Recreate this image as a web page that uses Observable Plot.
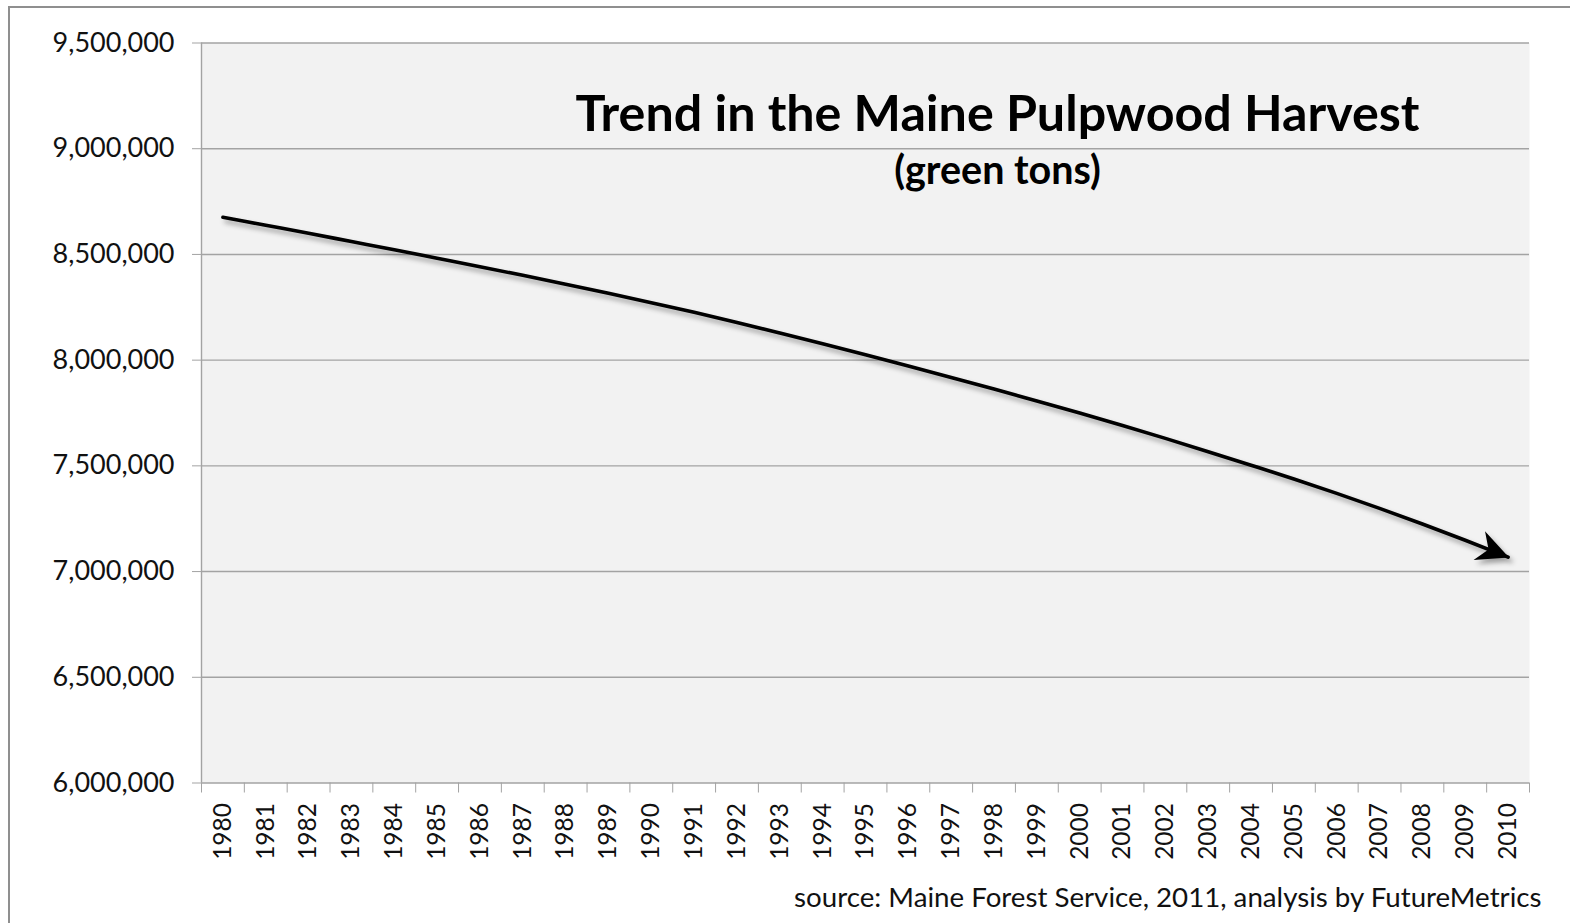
<!DOCTYPE html>
<html>
<head>
<meta charset="utf-8">
<script src="https://cdn.jsdelivr.net/npm/d3@7"></script>
<script src="https://cdn.jsdelivr.net/npm/@observablehq/plot@0.6"></script>
<style>
html, body { margin: 0; padding: 0; background: #fff; overflow: hidden; }
#wrap { position: relative; width: 1570px; height: 923px; overflow: hidden; }
#border { position: absolute; left: 8px; top: 6px; width: 1640px; height: 1000px; border: 2px solid #8f8f8f; box-sizing: border-box; }
#chart { position: absolute; left: 0; top: 0; }
</style>
</head>
<body>
<div id="wrap"><div id="border"></div><div id="chart"></div></div>
<script>
// ---- data ----
const years = [1980, 1981, 1982, 1983, 1984, 1985, 1986, 1987, 1988, 1989,
               1990, 1991, 1992, 1993, 1994, 1995, 1996, 1997, 1998, 1999,
               2000, 2001, 2002, 2003, 2004, 2005, 2006, 2007, 2008, 2009, 2010];
const harvest = [8676000, 8638000, 8600000, 8561000, 8522000, 8482000, 8442000, 8401000, 8359000, 8316000,
                 8272000, 8226000, 8178000, 8128000, 8077000, 8025000, 7972000, 7918000, 7863000, 7807000,
                 7750000, 7691000, 7630000, 7567000, 7503000, 7438000, 7370000, 7299000, 7225000, 7148000, 7068000];
const yTicks = [6000000, 6500000, 7000000, 7500000, 8000000, 8500000, 9000000, 9500000];
const titleText = ["Trend in the Maine Pulpwood Harvest"];
const subtitleText = ["(green tons)"];
const sourceText = ["source: Maine Forest Service, 2011, analysis by FutureMetrics"];

// ---- derived tables ----
const data = years.map((year, i) => ({year, value: harvest[i]}));
const bounds = [...years.map(y => y - 0.5), years[years.length - 1] + 0.5];

const gray = "#a3a3a3";
const chart = Plot.plot({
  width: 1570,
  height: 923,
  marginLeft: 201,
  marginRight: 41,
  marginTop: 42.5,
  marginBottom: 140.5,
  style: {fontFamily: "Lato, 'Open Sans', sans-serif", background: "transparent", overflow: "visible", color: "#111"},
  x: {type: "linear", domain: [bounds[0], bounds[bounds.length - 1]], label: null},
  y: {domain: [yTicks[0], yTicks[yTicks.length - 1]], label: null},
  marks: [
    Plot.frame({fill: "#f2f2f2", stroke: null}),
    Plot.gridY(yTicks, {stroke: gray, strokeOpacity: 1, strokeWidth: 1.4}),
    Plot.ruleX([bounds[0]], {stroke: gray, strokeWidth: 1.4}),
    Plot.axisY({ticks: yTicks, tickSize: 9, tickPadding: 18, tickFormat: d3.format(","), fontSize: 27, stroke: gray, fill: "#111", label: null}),
    Plot.axisX({ticks: bounds, tickSize: 10, tickFormat: () => "", stroke: gray, label: null}),
    Plot.axisX({ticks: years, tickSize: 0, tickPadding: 20, tickRotate: -90, tickFormat: d => String(d), fontSize: 24.5, fill: "#111", label: null}),
    Plot.line(data, {x: "year", y: "value", curve: "monotone-x", stroke: "#000", strokeWidth: 3.6}),
    Plot.text(titleText, {text: d => d, frameAnchor: "top", dx: 132, dy: 88, lineAnchor: "bottom", fontSize: 50.2, fontWeight: "bold", fill: "#000"}),
    Plot.text(subtitleText, {text: d => d, frameAnchor: "top", dx: 132, dy: 141, lineAnchor: "bottom", fontSize: 39.5, fontWeight: "bold", fill: "#000"}),
    Plot.text(sourceText, {text: d => d, frameAnchor: "bottom-right", textAnchor: "end", dx: 12, dy: 123.5, lineAnchor: "bottom", fontSize: 27.7, fill: "#111"})
  ]
});

// arrowhead + drop shadow on the trend line
const ns = "http://www.w3.org/2000/svg";
const defs = document.createElementNS(ns, "defs");
const filter = document.createElementNS(ns, "filter");
filter.setAttribute("id", "lineShadow");
filter.setAttribute("x", "-5%"); filter.setAttribute("y", "-20%");
filter.setAttribute("width", "115%"); filter.setAttribute("height", "150%");
const shadow = document.createElementNS(ns, "feDropShadow");
shadow.setAttribute("dx", "3"); shadow.setAttribute("dy", "4");
shadow.setAttribute("stdDeviation", "2.5");
shadow.setAttribute("flood-color", "#000"); shadow.setAttribute("flood-opacity", "0.35");
filter.appendChild(shadow);
defs.appendChild(filter);
const marker = document.createElementNS(ns, "marker");
marker.setAttribute("id", "arrowHead");
marker.setAttribute("viewBox", "-36 -18 38 36");
marker.setAttribute("refX", "0"); marker.setAttribute("refY", "0");
marker.setAttribute("markerWidth", "38"); marker.setAttribute("markerHeight", "36");
marker.setAttribute("markerUnits", "userSpaceOnUse");
marker.setAttribute("orient", "auto");
const head = document.createElementNS(ns, "path");
head.setAttribute("d", "M1,0 L-31,-15.5 L-21,0 L-31,15.5 Z");
head.setAttribute("fill", "#000");
marker.appendChild(head);
defs.appendChild(marker);
chart.insertBefore(defs, chart.firstChild);
const linePath = chart.querySelector('g[aria-label="line"] path');
if (linePath) {
  linePath.setAttribute("marker-end", "url(#arrowHead)");
  linePath.setAttribute("filter", "url(#lineShadow)");
}

document.getElementById("chart").appendChild(chart);
</script>
</body>
</html>
